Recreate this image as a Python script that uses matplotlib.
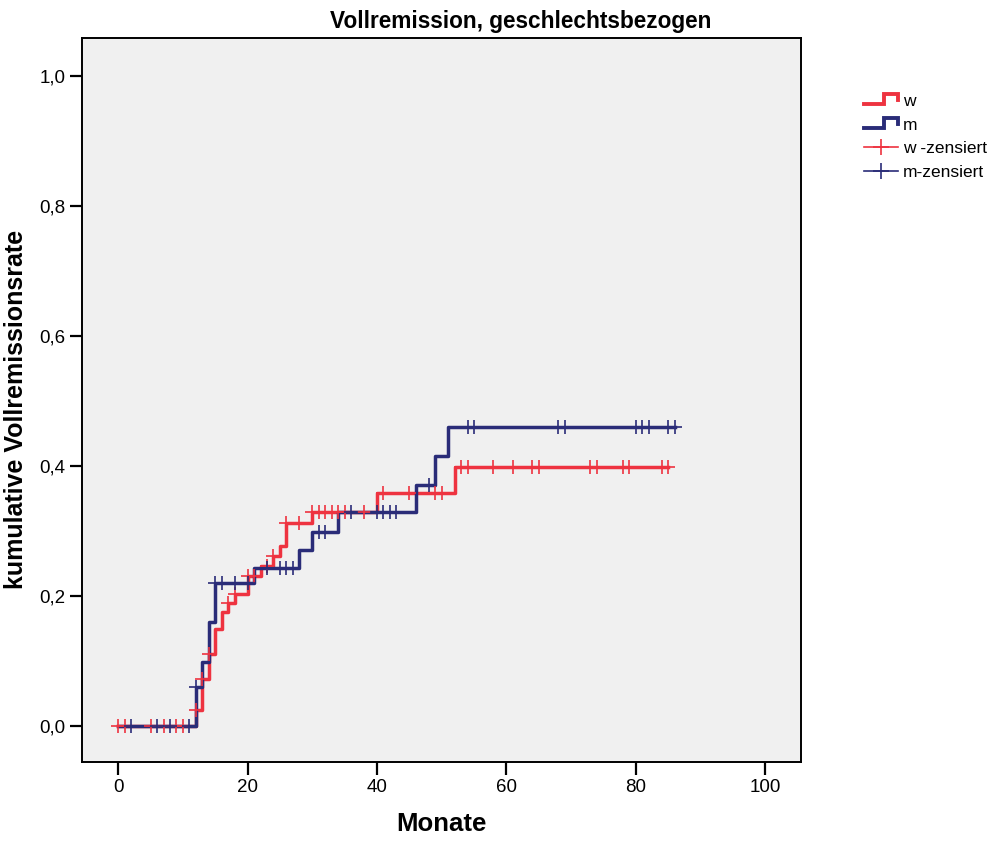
import numpy as np
import matplotlib
matplotlib.use("Agg")
import matplotlib.pyplot as plt
from matplotlib.lines import Line2D
from matplotlib.legend_handler import HandlerBase
from matplotlib.ticker import FuncFormatter

plt.rcParams['font.family'] = ['Liberation Sans', 'DejaVu Sans']

# Kaplan-Meier type curves (cumulative remission rate)
w_times = [0, 12, 13, 14, 15, 16, 17, 18, 20, 22, 24, 25, 26, 30, 40, 52]
w_rate = [0, 0.025, 0.073, 0.111, 0.149, 0.176, 0.189, 0.203, 0.231, 0.246,
          0.262, 0.277, 0.312, 0.329, 0.358, 0.399]
w_cens = [0, 1, 5, 7, 9, 10, 12, 13, 14, 17, 18, 20, 21, 23, 24, 26, 28,
          30, 31, 32, 33, 34, 35, 38, 41, 45, 49, 50, 53, 54, 58, 61, 64, 65,
          73, 74, 78, 79, 84, 85]

m_times = [0, 12, 13, 14, 15, 21, 28, 30, 34, 46, 49, 51]
m_rate = [0, 0.060, 0.099, 0.160, 0.220, 0.243, 0.271, 0.298, 0.329, 0.371,
          0.416, 0.460]
m_cens = [2, 6, 8, 11, 12, 15, 16, 18, 20, 23, 25, 26, 27, 31, 32, 36, 40, 41,
          42, 43, 48, 54, 55, 68, 69, 80, 81, 82, 85, 86]

RED = '#EE3340'
BLUE = '#2A2C78'


def step_at(times, vals, t):
    idx = np.searchsorted(times, t, side='right') - 1
    return np.asarray(vals)[idx]


class StepHandler(HandlerBase):
    def create_artists(self, legend, orig_handle, xdescent, ydescent,
                       width, height, fontsize, trans):
        x0 = -xdescent
        y0 = -ydescent
        xs = [x0, x0 + 0.58 * width, x0 + 0.58 * width, x0 + width, x0 + width]
        ys = [y0 + 0.15 * height, y0 + 0.15 * height, y0 + 0.95 * height,
              y0 + 0.95 * height, y0 + 0.5 * height]
        ln = Line2D(xs, ys, color=orig_handle.get_color(),
                    lw=orig_handle.get_linewidth(), solid_joinstyle='miter')
        ln.set_transform(trans)
        return [ln]


fig = plt.figure(figsize=(10, 8.42), dpi=100)
ax = fig.add_axes([0.082, 0.095, 0.7187, 0.86])
ax.set_facecolor('#F0F0F0')

for times, rate, cens, col in [(w_times, w_rate, w_cens, RED),
                               (m_times, m_rate, m_cens, BLUE)]:
    end = max(cens)
    xs = list(times) + [end]
    ys = list(rate) + [rate[-1]]
    ax.step(xs, ys, where='post', color=col, lw=2.5, zorder=3)

# censored marks
ax.plot(w_cens, step_at(w_times, w_rate, w_cens), ls='none', marker='+',
        ms=9.5, mew=1.2, color=RED, zorder=4)
ax.plot(m_cens, step_at(m_times, m_rate, m_cens), ls='none', marker='+',
        ms=9.5, mew=1.2, color=BLUE, zorder=4)

ax.set_xlim(-5.6, 105.5)
ax.set_ylim(-0.055, 1.058)
ax.set_xticks([0, 20, 40, 60, 80, 100])
ax.set_yticks([0, 0.2, 0.4, 0.6, 0.8, 1.0])
ax.yaxis.set_major_formatter(FuncFormatter(lambda v, p: f'{v:.1f}'.replace('.', ',')))
ax.tick_params(direction='out', length=9, width=1.6, labelsize=13.5, pad=3)
for s in ax.spines.values():
    s.set_linewidth(1.4)

ax.set_xlabel('Monate', fontsize=18.5, fontweight='bold', labelpad=12)
ax.set_ylabel('kumulative Vollremissionsrate', fontsize=18, fontweight='bold')
ax.yaxis.set_label_coords(-0.075, 0.487)
fig.text(0.521, 0.975, 'Vollremission, geschlechtsbezogen', ha='center',
         va='center', fontsize=16.3, fontweight='bold')

h_w = Line2D([], [], color=RED, lw=2.8)
h_m = Line2D([], [], color=BLUE, lw=2.8)
h_wc = Line2D([], [], color=RED, lw=1.2, marker='+', ms=12, mew=1.2)
h_mc = Line2D([], [], color=BLUE, lw=1.2, marker='+', ms=12, mew=1.2)
fig.legend([h_w, h_m, h_wc, h_mc], ['w', 'm', 'w -zensiert', 'm-zensiert'],
           handler_map={h_w: StepHandler(), h_m: StepHandler()},
           loc='upper left', bbox_to_anchor=(0.857, 0.897), frameon=False,
           fontsize=12.5, handlelength=1.95, handletextpad=0.3,
           labelspacing=0.5, borderaxespad=0)

fig.savefig('out.png', dpi=100)
